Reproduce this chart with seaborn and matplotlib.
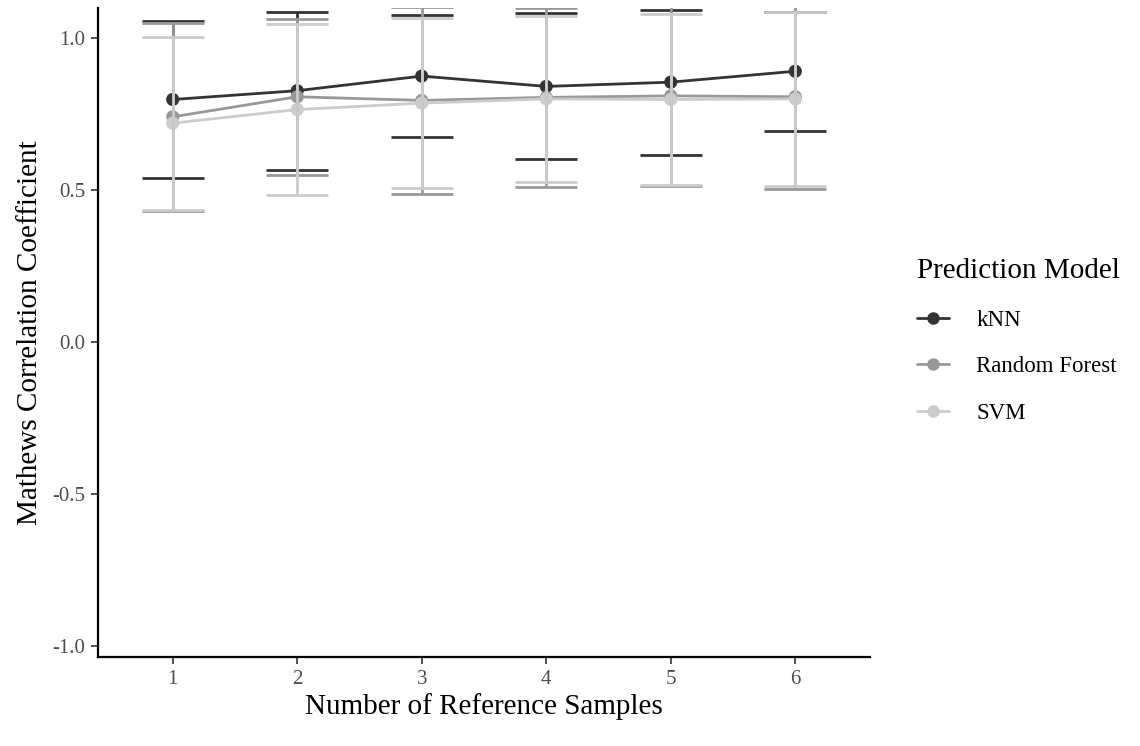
import pandas as pd
import numpy as np
import matplotlib
matplotlib.use("Agg")
import matplotlib.pyplot as plt
import seaborn as sns
from matplotlib.lines import Line2D

# values (mean +/- sd per model)
samples = [1, 2, 3, 4, 5, 6]
models = ["kNN", "Random Forest", "SVM"]
knn_mean = [0.798, 0.827, 0.875, 0.841, 0.855, 0.891]
knn_sd = [0.257, 0.260, 0.200, 0.240, 0.238, 0.195]
rf_mean = [0.741, 0.807, 0.795, 0.805, 0.810, 0.807]
rf_sd = [0.309, 0.256, 0.308, 0.294, 0.298, 0.302]
svm_mean = [0.720, 0.765, 0.786, 0.800, 0.798, 0.800]
svm_sd = [0.285, 0.281, 0.280, 0.274, 0.282, 0.285]
colors = ["#333333", "#989898", "#CCCCCC"]

df = pd.DataFrame({
    "samples": samples * 3,
    "model": np.repeat(models, len(samples)),
    "mcc": knn_mean + rf_mean + svm_mean,
    "sd": knn_sd + rf_sd + svm_sd,
})
palette = dict(zip(models, colors))

sns.set_theme(style="ticks")
plt.rcParams["font.family"] = ["Liberation Serif", "DejaVu Serif"]

fig = plt.figure(figsize=(11.4, 7.46), dpi=100)
ax = fig.add_axes([98 / 1140, 1 - 657 / 746, (870 - 98) / 1140, (657 - 8) / 746])

# lines first, then points, then error bars on top (ggplot layer order)
sns.lineplot(data=df, x="samples", y="mcc", hue="model", palette=palette,
             linewidth=2, ax=ax, legend=False, zorder=2)
sns.scatterplot(data=df, x="samples", y="mcc", hue="model", palette=palette,
                s=90, linewidth=0, ax=ax, legend=False, zorder=3)
for m in models:
    sub = df[df["model"] == m]
    for x, y, e in zip(sub["samples"], sub["mcc"], sub["sd"]):
        ax.plot([x, x], [y - e, y + e], color=palette[m], lw=2, zorder=4,
                solid_capstyle="butt")
        for yy in (y - e, y + e):
            ax.plot([x - 0.25, x + 0.25], [yy, yy], color=palette[m], lw=2,
                    zorder=4, solid_capstyle="butt")

ax.set_xlim(0.4, 6.6)
ax.set_ylim(-1.036, 1.099)
ax.set_xticks(samples)
ax.set_xticklabels([str(s) for s in samples])
ax.set_yticks([-1.0, -0.5, 0.0, 0.5, 1.0])
ax.set_yticklabels(["-1.0", "-0.5", "0.0", "0.5", "1.0"])
ax.tick_params(axis="both", labelsize=15, labelcolor="#4D4D4D", color="#333333",
               length=5, width=1.2, pad=4)
ax.set_xlabel("Number of Reference Samples", fontsize=21, color="black", labelpad=3)
ax.set_ylabel("Mathews Correlation Coefficient", fontsize=21, color="black", labelpad=7)
sns.despine(ax=ax)
for side in ("left", "bottom"):
    ax.spines[side].set_linewidth(1.6)
    ax.spines[side].set_color("black")

handles = [Line2D([0], [0], color=c, lw=2, marker="o", markersize=8) for c in colors]
leg = fig.legend(handles, models, title="Prediction Model", loc="center left",
                 bbox_to_anchor=(896 / 1140, 1 - 341 / 746), frameon=False,
                 fontsize=16.5, title_fontsize=21, handlelength=1.4,
                 labelspacing=1.12, handletextpad=1.2, alignment="left")
leg.get_title().set_color("black")
for t in leg.get_texts():
    t.set_color("black")

fig.savefig("out.png", dpi=100)
